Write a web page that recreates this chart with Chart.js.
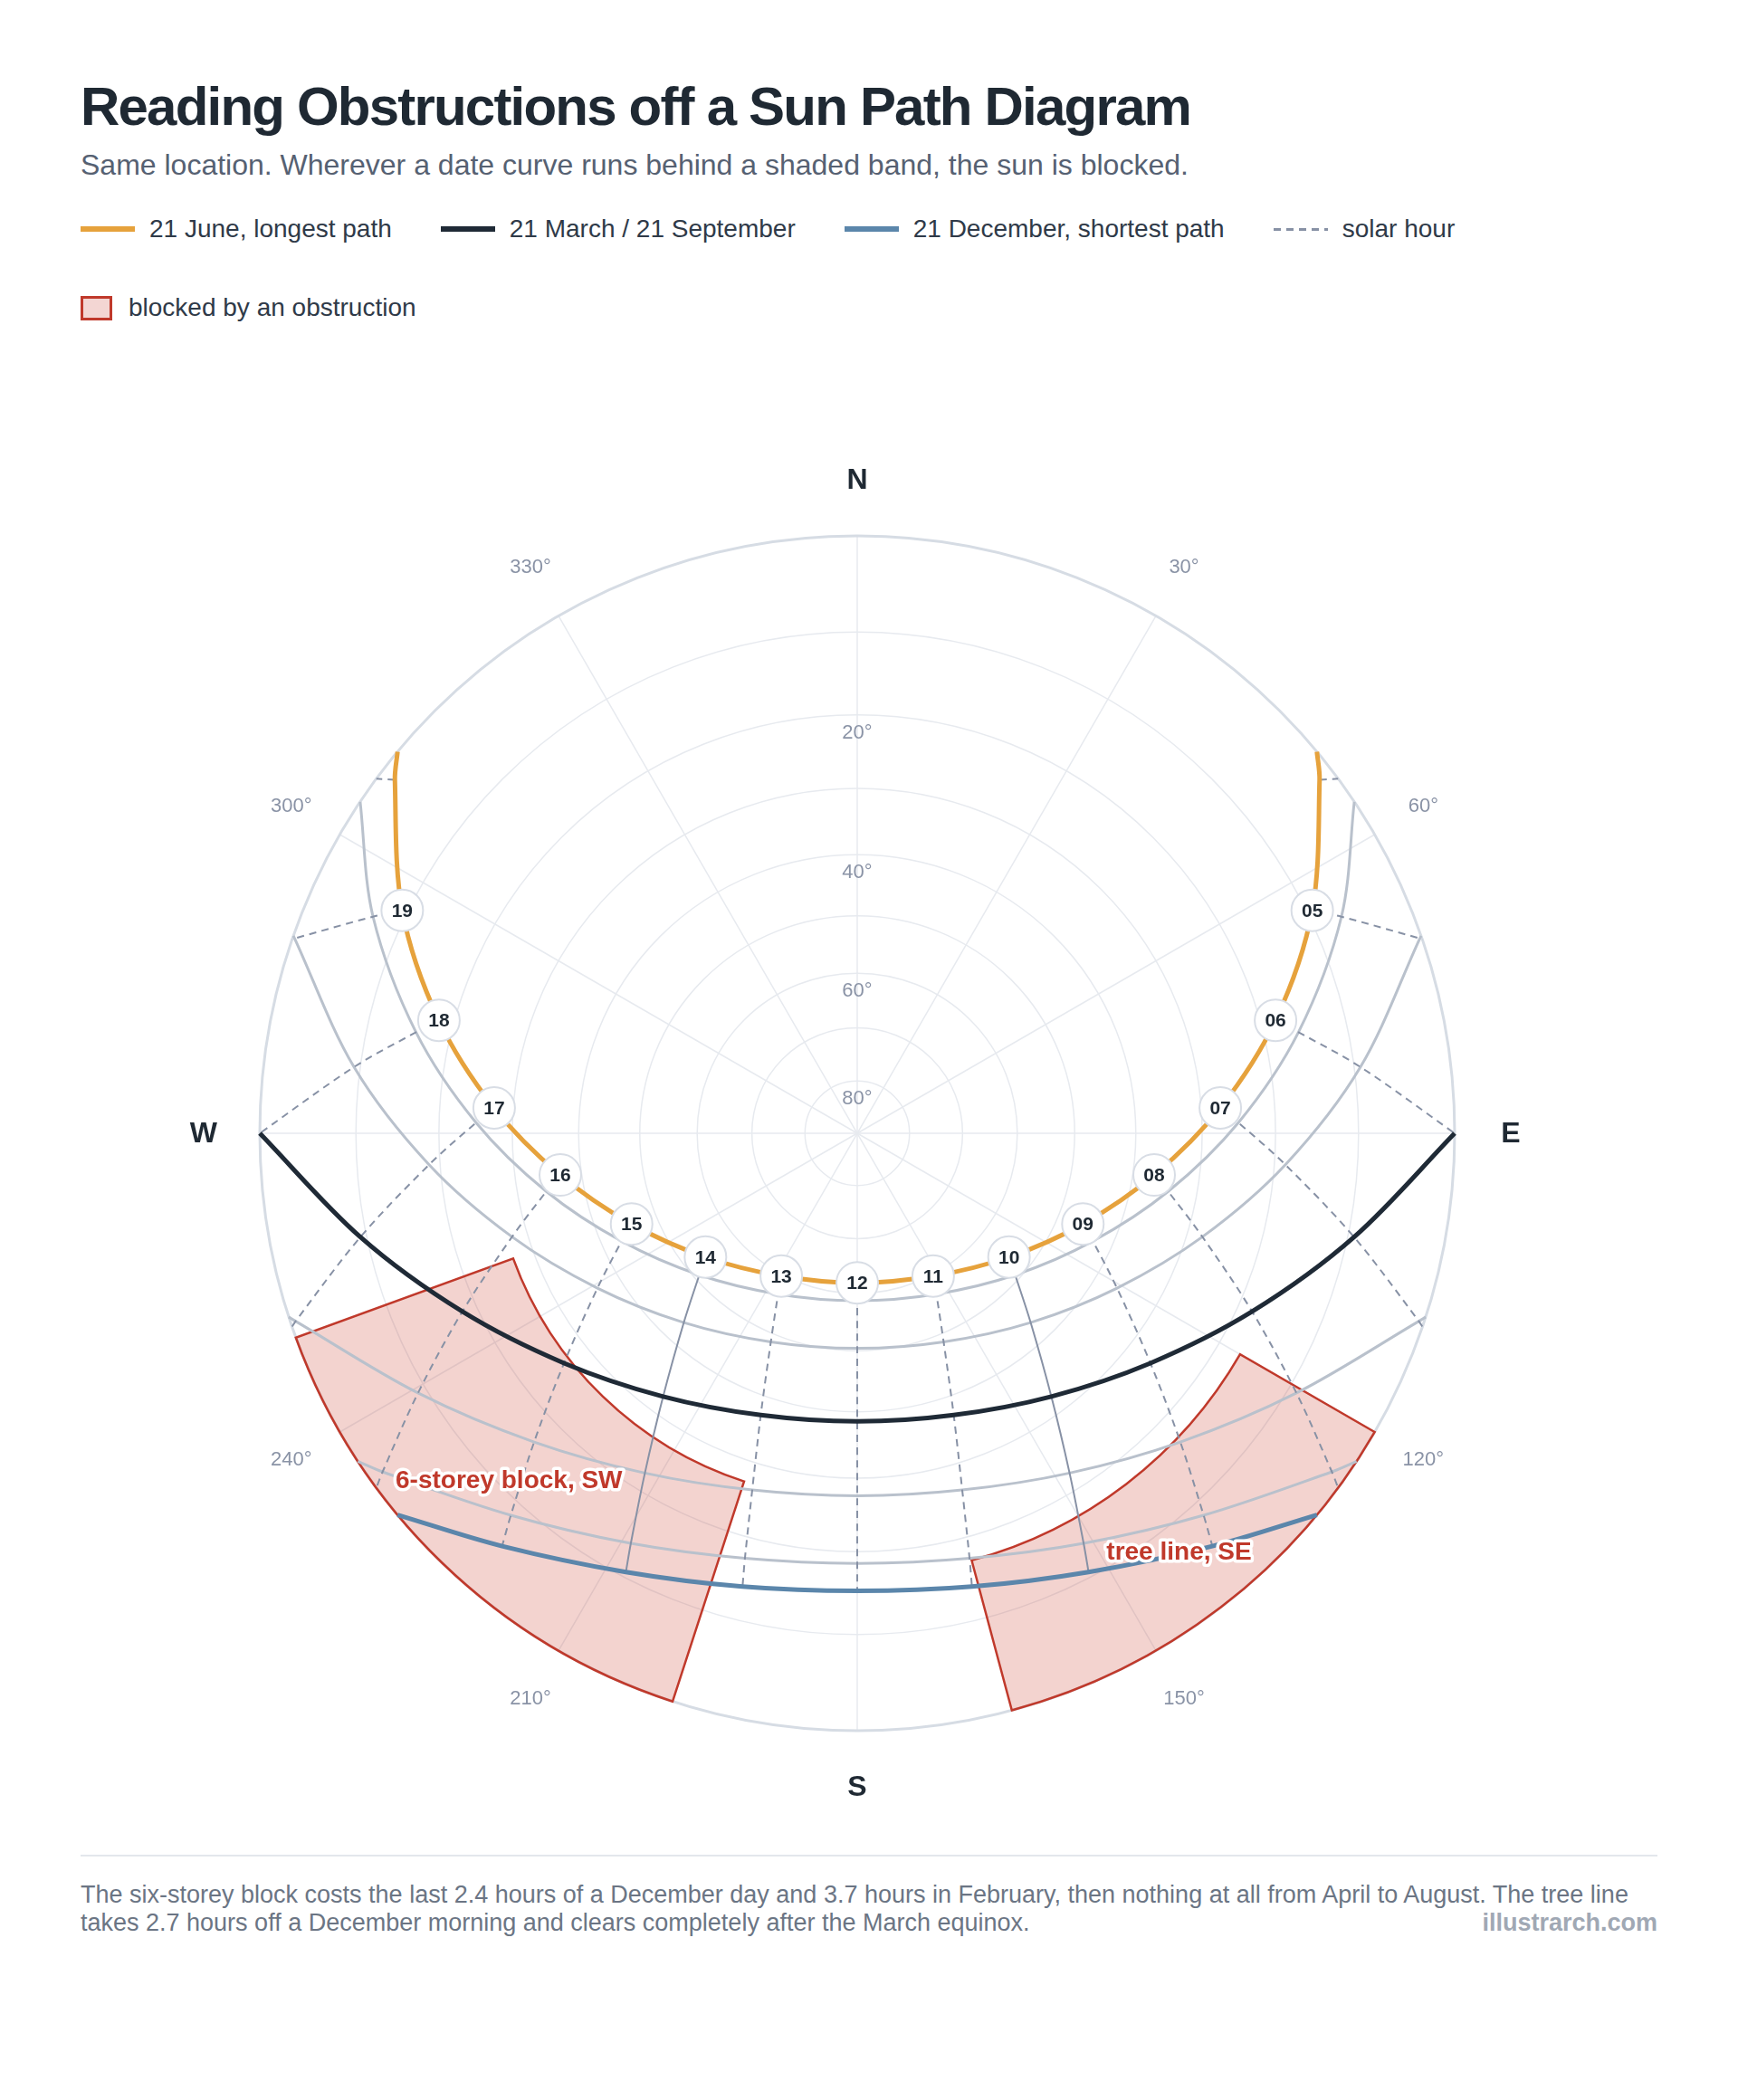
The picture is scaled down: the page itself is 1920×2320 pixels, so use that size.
<!DOCTYPE html>
<html lang="en">
<head>
<meta charset="utf-8">
<title>Reading Obstructions off a Sun Path Diagram</title>
<script src="https://cdn.jsdelivr.net/npm/chart.js@4.4.1/dist/chart.umd.min.js"></script>
<style>
  html, body { margin: 0; padding: 0; background: #fff; }
  body { width: 1920px; height: 2320px; position: relative; overflow: hidden;
         font-family: "Liberation Sans", Arial, Helvetica, sans-serif; color: #1F2933; }
  h1 { position: absolute; left: 89px; top: 84px; margin: 0; font-size: 60px; line-height: 68px;
       font-weight: 700; letter-spacing: -1.8px; white-space: nowrap; }
  .sub { position: absolute; left: 89px; top: 164px; font-size: 32px; line-height: 36px; color: #566172; white-space: nowrap; }
  .legend { position: absolute; left: 89px; top: 236px; width: 1742px; display: flex; flex-wrap: wrap;
            column-gap: 54px; row-gap: 53px; font-size: 28px; color: #2F3A48; }
  .item { display: flex; align-items: center; height: 34px; white-space: nowrap; }
  .swatch { display: inline-block; flex: none; }
  .line { width: 60px; height: 6px; margin-right: 16px; }
  .dash { width: 60px; height: 3px; margin-right: 16px;
          background: repeating-linear-gradient(90deg, #8791A5 0 8px, transparent 8px 14px); }
  .box { width: 29px; height: 21px; border: 3px solid #C0392B; background: #F3D6D3; margin-right: 18px; }
  #wrap { position: absolute; left: 0; top: 480px; width: 1920px; height: 1560px; }
  .rule { position: absolute; left: 89px; top: 2049px; width: 1742px; height: 2px; background: #E3E7EC; }
  .foot { position: absolute; left: 89px; top: 2078px; font-size: 27px; line-height: 31px; color: #6B7584; white-space: nowrap; }
  .credit { position: absolute; right: 89px; top: 2109px; font-size: 27px; line-height: 31px; font-weight: 700; color: #A0A8B4; }
</style>
</head>
<body>
<h1>Reading Obstructions off a Sun Path Diagram</h1>
<div class="sub">Same location. Wherever a date curve runs behind a shaded band, the sun is blocked.</div>
<div class="legend">
  <div class="item"><span class="swatch line" style="background:#E6A23C"></span>21 June, longest path</div>
  <div class="item"><span class="swatch line" style="background:#1F2A36"></span>21 March / 21 September</div>
  <div class="item"><span class="swatch line" style="background:#5B86AB"></span>21 December, shortest path</div>
  <div class="item"><span class="swatch dash"></span>solar hour</div>
  <div class="item"><span class="swatch box"></span>blocked by an obstruction</div>
</div>
<div id="wrap"><canvas id="sunpath" width="1920" height="1560"></canvas></div>
<div class="rule"></div>
<div class="foot">The six-storey block costs the last 2.4 hours of a December day and 3.7 hours in February, then nothing at all from April to August. The tree line<br>takes 2.7 hours off a December morning and clears completely after the March equinox.</div>
<div class="credit">illustrarch.com</div>

<script>
// Sun positions: azimuth (deg from N, clockwise) and altitude (deg), solar time.
const HOURS = [4, 5, 6, 7, 8, 9, 10, 11, 12, 13, 14, 15, 16, 17, 18, 19, 20];

const junAz  = [52.6, 63.9, 74.9, 86.0, 98.0, 111.9, 129.2, 152.0, 180, 208.0, 230.8, 248.1, 262.0, 274.0, 285.1, 296.1, 307.4];
const junAlt = [1.5, 9.4, 18.1, 27.3, 36.7, 45.7, 53.7, 59.7, 61.9, 59.7, 53.7, 45.7, 36.7, 27.3, 18.1, 9.4, 1.5];

const mayAz  = [null, 65.9, 77.1, 88.4, 100.6, 114.6, 131.9, 153.8, 180, 206.2, 228.1, 245.4, 259.4, 271.6, 282.9, 294.1, null];
const mayAlt = [null, 6.8, 15.7, 24.9, 34.2, 43.1, 50.9, 56.6, 58.7, 56.6, 50.9, 43.1, 34.2, 24.9, 15.7, 6.8, null];

const aprAz  = [null, 70.9, 82.5, 94.2, 106.7, 120.8, 137.5, 157.5, 180, 202.5, 222.5, 239.2, 253.3, 265.8, 277.5, 289.1, null];
const aprAlt = [null, 0.2, 9.3, 18.6, 27.8, 36.3, 43.5, 48.6, 50.4, 48.6, 43.5, 36.3, 27.8, 18.6, 9.3, 0.2, null];

const equAz  = [null, null, 90, 101.8, 114.3, 128.1, 143.6, 161.1, 180, 198.9, 216.4, 231.9, 245.7, 258.2, 270, null, null];
const equAlt = [null, null, 0, 9.3, 18.1, 26.1, 32.6, 37.0, 38.5, 37.0, 32.6, 26.1, 18.1, 9.3, 0, null, null];

const febAz  = [null, null, null, 108.5, 120.6, 133.7, 148.0, 163.6, 180, 196.4, 212.0, 226.3, 239.4, 251.5, null, null, null];
const febAlt = [null, null, null, 0.5, 9.0, 16.4, 22.3, 26.2, 27.5, 26.2, 22.3, 16.4, 9.0, 0.5, null, null, null];

const janAz  = [null, null, null, null, 125.5, 137.8, 151.1, 165.2, 180, 194.8, 208.9, 222.2, 234.5, null, null, null, null];
const janAlt = [null, null, null, null, 1.4, 8.4, 13.8, 17.3, 18.5, 17.3, 13.8, 8.4, 1.4, null, null, null, null];

const decAz  = [null, null, null, null, null, 139.3, 152.2, 165.8, 180, 194.2, 207.8, 220.7, null, null, null, null, null];
const decAlt = [null, null, null, null, null, 5.3, 10.6, 13.9, 15.1, 13.9, 10.6, 5.3, null, null, null, null, null];

// sunrise / sunset azimuths, same order as the date lists (June ... December)
const riseAz = [50.3, 56.3, 70.7, 90, 107.9, 123.3, 129.7];
const setAz  = [309.7, 303.7, 289.3, 270, 252.1, 236.7, 230.3];

// where an hour line meets the horizon (null: it ends on the December curve or at the equinox sunrise)
const hourEndAz = [53.6, 71.1, null, 108.9, 126.4, null, null, null, null, null, null, null, 233.6, 251.1, null, 288.9, 306.4];
const solidHours = [10, 14];
const markerHours = [5, 6, 7, 8, 9, 10, 11, 12, 13, 14, 15, 16, 17, 18, 19];

// obstructions as azimuth range + top altitude
const obsNames   = ['6-storey block, SW', 'tree line, SE'];
const obsAzFrom  = [198, 120];
const obsAzTo    = [250, 165];
const obsTopAlt  = [27, 17];
const obsLabelAz  = [225, 142.5];
const obsLabelAlt = [11, 7];

const ringAlts = [10, 20, 30, 40, 50, 60, 70, 80];
const altLabels = [20, 40, 60, 80];
const spokeAz = [0, 30, 60, 90, 120, 150, 180, 210, 240, 270, 300, 330];
const degreeLabels = [30, 60, 120, 150, 210, 240, 300, 330];
const compassAz = [0, 90, 180, 270];
const compassText = ['N', 'E', 'S', 'W'];

const ORANGE = '#E6A23C';
const NAVY = '#1F2A36';
const BLUE = '#5B86AB';
const GREY_DATE = '#B9C1CC';
const HOUR_LINE = '#8791A5';
const GRID = '#E7EAEF';
const RED = '#C0392B';
const FONT = '"Liberation Sans", Arial, Helvetica, sans-serif';

const rad = d => d * Math.PI / 180;
// stereographic: zenith in the middle, horizon at radius 1
const zr = alt => Math.tan(rad(90 - alt) / 2);
const project = (az, alt) => ({ x: zr(alt) * Math.sin(rad(az)), y: zr(alt) * Math.cos(rad(az)) });

const dateAz  = [junAz, mayAz, aprAz, equAz, febAz, janAz, decAz];
const dateAlt = [junAlt, mayAlt, aprAlt, equAlt, febAlt, janAlt, decAlt];
const dateColor = [ORANGE, GREY_DATE, GREY_DATE, NAVY, GREY_DATE, GREY_DATE, BLUE];
const dateWidth = [5, 3, 3, 5, 3, 3, 5];
const dateOrder = [1, 5, 5, 2, 5, 5, 3];

const datasets = [];

// date curves
dateAz.forEach((azs, d) => {
  const pts = [project(riseAz[d], 0)];
  azs.forEach((az, i) => {
    if (az !== null && dateAlt[d][i] > 0) pts.push(project(az, dateAlt[d][i]));
  });
  pts.push(project(setAz[d], 0));
  datasets.push({
    data: pts, showLine: true, borderColor: dateColor[d], borderWidth: dateWidth[d],
    tension: 0.33, pointRadius: 0, order: dateOrder[d], clip: false
  });
});

// solar hour lines, June down to December or the horizon
HOURS.forEach((h, i) => {
  const pts = [];
  dateAz.forEach((azs, d) => {
    if (azs[i] !== null) pts.push(project(azs[i], dateAlt[d][i]));
  });
  if (hourEndAz[i] !== null) pts.push(project(hourEndAz[i], 0));
  datasets.push({
    data: pts, showLine: true, borderColor: HOUR_LINE, borderWidth: 2,
    borderDash: solidHours.includes(h) ? [] : [8, 6],
    tension: 0.33, pointRadius: 0, order: 4, clip: false
  });
});

// hour markers on the June path
const markerPts = markerHours.map(h => {
  const i = HOURS.indexOf(h);
  return project(junAz[i], junAlt[i]);
});
datasets.push({
  data: markerPts, showLine: false, pointRadius: 23, pointBackgroundColor: '#FFFFFF',
  pointBorderColor: '#D8DDE5', pointBorderWidth: 2, order: 0, clip: false
});

const sunPathFrame = {
  id: 'sunPathFrame',
  beforeDatasetsDraw(chart) {
    const { ctx, scales: { x, y } } = chart;
    const cx = x.getPixelForValue(0);
    const cy = y.getPixelForValue(0);
    const unit = x.getPixelForValue(1) - cx;
    const px = p => [x.getPixelForValue(p.x), y.getPixelForValue(p.y)];
    ctx.save();

    // altitude rings + azimuth spokes
    ctx.strokeStyle = GRID;
    ctx.lineWidth = 1.5;
    ringAlts.forEach(a => {
      ctx.beginPath();
      ctx.arc(cx, cy, zr(a) * unit, 0, Math.PI * 2);
      ctx.stroke();
    });
    spokeAz.forEach(az => {
      const [ex, ey] = px(project(az, 0));
      ctx.beginPath();
      ctx.moveTo(cx, cy);
      ctx.lineTo(ex, ey);
      ctx.stroke();
    });

    // horizon
    ctx.strokeStyle = '#D6DCE4';
    ctx.lineWidth = 3;
    ctx.beginPath();
    ctx.arc(cx, cy, unit, 0, Math.PI * 2);
    ctx.stroke();

    // obstruction bands
    obsAzFrom.forEach((a0, k) => {
      const a1 = obsAzTo[k];
      const rTop = zr(obsTopAlt[k]) * unit;
      const [x0, y0] = px(project(a0, 0));
      ctx.beginPath();
      ctx.moveTo(x0, y0);
      ctx.lineTo(cx + rTop * Math.sin(rad(a0)), cy - rTop * Math.cos(rad(a0)));
      ctx.arc(cx, cy, rTop, rad(a0 - 90), rad(a1 - 90), false);
      ctx.lineTo(...px(project(a1, 0)));
      ctx.arc(cx, cy, unit, rad(a1 - 90), rad(a0 - 90), true);
      ctx.closePath();
      ctx.fillStyle = 'rgba(205, 70, 55, 0.24)';
      ctx.fill();
      ctx.strokeStyle = RED;
      ctx.lineWidth = 2.5;
      ctx.lineJoin = 'miter';
      ctx.stroke();
    });

    // labels round the rim
    ctx.textAlign = 'center';
    ctx.textBaseline = 'middle';
    ctx.fillStyle = '#8A93A6';
    ctx.font = `22px ${FONT}`;
    degreeLabels.forEach(az => {
      const r = unit * 1.094;
      ctx.fillText(`${az}°`, cx + r * Math.sin(rad(az)), cy - r * Math.cos(rad(az)));
    });
    ctx.textBaseline = 'top';
    altLabels.forEach(a => {
      ctx.fillText(`${a}°`, cx, cy - zr(a) * unit + 9);
    });
    ctx.textBaseline = 'middle';
    ctx.fillStyle = '#1F2933';
    ctx.font = `bold 32px ${FONT}`;
    compassAz.forEach((az, k) => {
      const r = unit * 1.094;
      ctx.fillText(compassText[k], cx + r * Math.sin(rad(az)), cy - r * Math.cos(rad(az)) + 1);
    });
    ctx.restore();
  },
  afterDatasetsDraw(chart) {
    const { ctx, scales: { x, y } } = chart;
    ctx.save();
    ctx.textAlign = 'center';
    ctx.textBaseline = 'middle';

    // hour numbers inside the markers
    ctx.font = `bold 21px ${FONT}`;
    ctx.fillStyle = '#1F2933';
    markerHours.forEach((h, k) => {
      const p = markerPts[k];
      ctx.fillText(String(h).padStart(2, '0'), x.getPixelForValue(p.x), y.getPixelForValue(p.y) + 1);
    });

    // obstruction names with a white halo
    ctx.font = `bold 28px ${FONT}`;
    ctx.lineJoin = 'round';
    obsNames.forEach((name, k) => {
      const p = project(obsLabelAz[k], obsLabelAlt[k]);
      const lx = x.getPixelForValue(p.x);
      const ly = y.getPixelForValue(p.y);
      ctx.strokeStyle = '#FFFFFF';
      ctx.lineWidth = 7;
      ctx.strokeText(name, lx, ly);
      ctx.fillStyle = RED;
      ctx.fillText(name, lx, ly);
    });
    ctx.restore();
  }
};

new Chart(document.getElementById('sunpath'), {
  type: 'scatter',
  data: { datasets },
  options: {
    responsive: false,
    animation: false,
    events: [],
    layout: { padding: { left: 287, right: 313, top: 112, bottom: 128 } },
    scales: {
      x: { type: 'linear', min: -1, max: 1, display: false },
      y: { type: 'linear', min: -1, max: 1, display: false }
    },
    plugins: { legend: { display: false }, tooltip: { enabled: false } }
  },
  plugins: [sunPathFrame]
});
</script>
</body>
</html>
